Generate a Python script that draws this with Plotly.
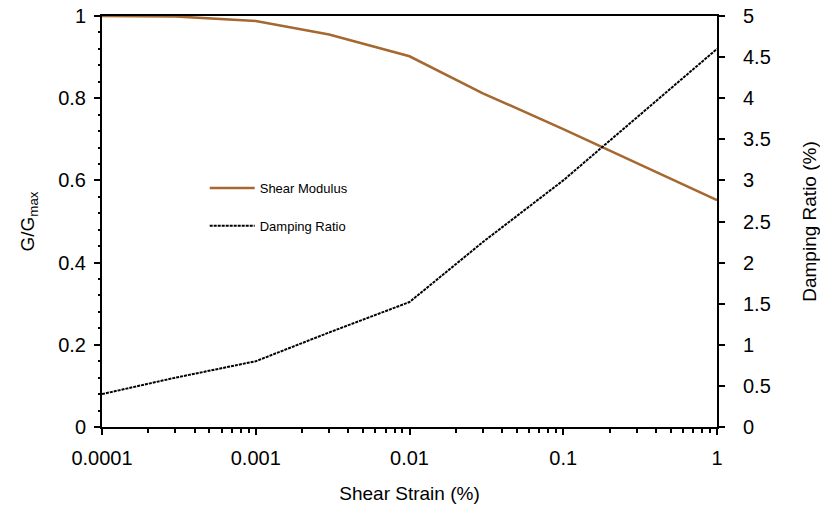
import plotly.graph_objects as go

# Shear strain (%) at which the curves are evaluated
strain = [0.0001, 0.0003, 0.001, 0.003, 0.01, 0.03, 0.1, 1]
# Normalised shear modulus G/Gmax
g_ratio = [1.0, 0.999, 0.988, 0.955, 0.902, 0.812, 0.725, 0.552]
# Damping ratio (%)
damping = [0.4, 0.6, 0.8, 1.15, 1.52, 2.25, 3.0, 4.6]

left_ticks = [0, 0.2, 0.4, 0.6, 0.8, 1]
right_ticks = [0, 0.5, 1, 1.5, 2, 2.5, 3, 3.5, 4, 4.5, 5]
x_ticks = [0.0001, 0.001, 0.01, 0.1, 1]
x_ticklabels = ["0.0001", "0.001", "0.01", "0.1", "1"]

FONT = "Liberation Sans, Arial, sans-serif"
TICK_SIZE = 20
TITLE_SIZE = 19

fig = go.Figure()
fig.add_trace(go.Scatter(
    x=strain, y=g_ratio, mode="lines", name="Shear Modulus",
    line=dict(color="rgb(164,104,48)", width=2.5),
    legendgroup="g", yaxis="y",
))
fig.add_trace(go.Scatter(
    x=strain, y=damping, mode="lines", name="Damping Ratio",
    line=dict(color="black", width=2, dash="3px,1px"),
    legendgroup="d", yaxis="y2",
))

axis_common = dict(
    showline=True, linecolor="black", linewidth=2,
    ticks="outside", ticklen=6, tickwidth=2, tickcolor="black",
    showgrid=False, zeroline=False, automargin=False,
    tickfont=dict(size=TICK_SIZE),
)

fig.update_layout(
    width=820, height=508,
    margin=dict(l=102, r=103, t=16, b=81),
    paper_bgcolor="white", plot_bgcolor="white",
    font=dict(family=FONT, size=16, color="black"),
    showlegend=True,
    legend=dict(
        x=0.167, y=0.618, xanchor="left", yanchor="top",
        bgcolor="rgba(0,0,0,0)", font=dict(size=13),
        itemwidth=45, tracegroupgap=18,
    ),
    xaxis=dict(
        type="log", range=[-4, 0],
        tickvals=x_ticks, ticktext=x_ticklabels, mirror=True,
        minor=dict(ticks="outside", ticklen=4, tickwidth=2, tickcolor="black",
                   dtick="D1"),
        title=dict(text="Shear Strain (%)", font=dict(size=TITLE_SIZE), standoff=19),
        ticklabelstandoff=6,
        **axis_common,
    ),
    yaxis=dict(
        range=[0, 1], tickvals=left_ticks,
        minor=dict(ticks="outside", ticklen=2, tickwidth=2, tickcolor="black",
                   dtick=0.04),
        title=dict(text="G/G<sub>max</sub>", font=dict(size=TITLE_SIZE), standoff=19),
        ticklabelstandoff=4,
        **axis_common,
    ),
    yaxis2=dict(
        range=[0, 5], tickvals=right_ticks, overlaying="y", side="right",
        title=dict(text="Damping Ratio (%)", font=dict(size=TITLE_SIZE), standoff=39),
        ticklabelstandoff=14,
        **axis_common,
    ),
)

fig.write_html("out.html")
